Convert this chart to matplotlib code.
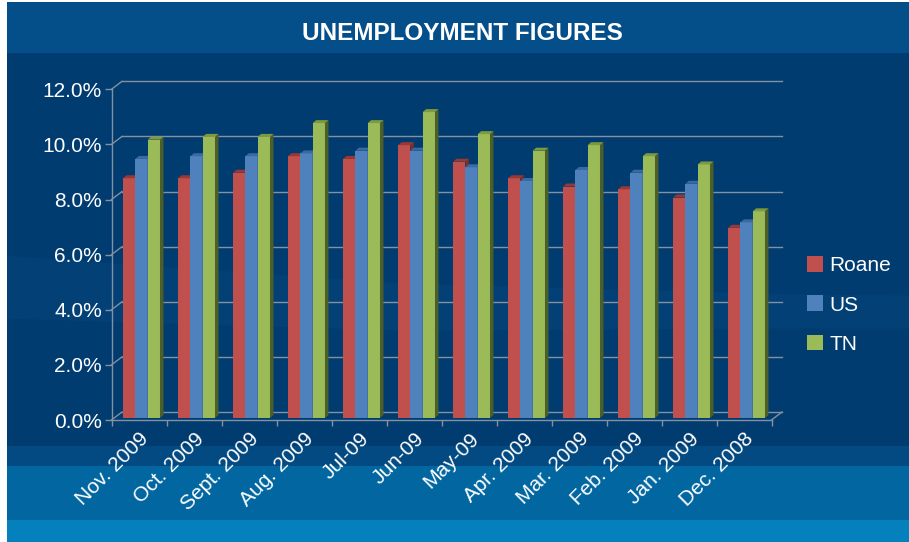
import matplotlib
matplotlib.use('Agg')
import matplotlib.pyplot as plt
import matplotlib.transforms as mtransforms
from matplotlib.patches import Polygon, Rectangle, Patch
from matplotlib.lines import Line2D
import numpy as np

# ---------------- data ----------------
categories = ['Nov. 2009', 'Oct. 2009', 'Sept. 2009', 'Aug. 2009', 'Jul-09', 'Jun-09',
              'May-09', 'Apr. 2009', 'Mar. 2009', 'Feb. 2009', 'Jan. 2009', 'Dec. 2008']
roane = [8.7, 8.7, 8.9, 9.5, 9.4, 9.9, 9.3, 8.7, 8.4, 8.3, 8.0, 6.9]
us = [9.4, 9.5, 9.5, 9.6, 9.7, 9.7, 9.1, 8.6, 9.0, 8.9, 8.5, 7.1]
tn = [10.1, 10.2, 10.2, 10.7, 10.7, 11.1, 10.3, 9.7, 9.9, 9.5, 9.2, 7.5]
series_names = ['Roane', 'US', 'TN']
y_ticks = [0, 2, 4, 6, 8, 10, 12]
title = 'UNEMPLOYMENT FIGURES'

# ---------------- style ----------------
front_cols = ['#c0504d', '#4f81bd', '#9bbb59']
top_cols = ['#9a3835', '#3b6aa3', '#7d9a3e']
side_cols = ['#7e2d2a', '#2c5185', '#4d5f28']
grid_col = '#8391a1'
FONT = ['Liberation Sans', 'DejaVu Sans']
plt.rcParams['font.family'] = FONT

W, H = 909, 542
fig = plt.figure(figsize=(W / 100, H / 100), dpi=100, facecolor='white')


def fx(px):
    return px / W


def fy(py):
    return 1 - py / H


# ---------------- background ----------------
bg = fig.add_axes([0, 0, 1, 1])
bg.set_xlim(0, W)
bg.set_ylim(H, 0)
bg.axis('off')
bands = [(2, 52.5, '#044f89'), (52.5, 446, '#013c71'), (446, 466, '#024a81'),
         (466, 520, '#0267a1'), (520, 542, '#0480bd')]
for y0, y1, c in bands:
    bg.add_patch(Rectangle((7, y0), W - 7, y1 - y0, facecolor=c, edgecolor='none'))
sx = np.linspace(7, W, 50)
upper = np.interp(sx, [0, 400, 800, 909], [255, 283, 294, 295])
lower = np.interp(sx, [0, 400, 800, 909], [318, 330, 328, 328])
bg.fill_between(sx, upper, lower, color='#0a5a8c', alpha=0.15, linewidth=0)

fig.text(fx(462), fy(33), title, ha='center', va='center', color='white',
         fontsize=17.5, fontweight='bold')

# ---------------- main axes ----------------
ax = fig.add_axes([fx(111.5), fy(420), fx(771.5) - fx(111.5), fy(89.3) - fy(420)])
ax.set_xlim(0, len(categories))
ax.set_ylim(0, 12)
ax.patch.set_visible(False)
for s in ['top', 'right']:
    ax.spines[s].set_visible(False)
for s in ['left', 'bottom']:
    ax.spines[s].set_color(grid_col)
    ax.spines[s].set_linewidth(1)

DX, DY = 10.5, 8.0      # back wall offset (pixels)
BX, BY = 2.5, 2.0       # bars offset (pixels)
PX, PY = 3.5, 3.0       # bar depth (pixels)
IDT = mtransforms.IdentityTransform()


def disp(x, y):
    return ax.transData.transform((x, y))


def pline(p0, p1, **kw):
    ax.add_line(Line2D([p0[0], p1[0]], [p0[1], p1[1]], transform=IDT,
                       color=grid_col, lw=1, clip_on=False, zorder=1, **kw))


n = len(categories)
for yv in y_ticks:
    a = disp(0, yv)
    b = disp(n, yv)
    pline(a + [DX, DY], b + [DX, DY])
    pline(a, a + [DX, DY])
pline(disp(n, 0), disp(n, 0) + [DX, DY])

# ---------------- bars ----------------
bw = 0.2236
bar_tr = mtransforms.offset_copy(ax.transData, fig=fig, x=BX, y=BY, units='dots')
x_idx = np.arange(n)
for k, vals in enumerate([roane, us, tn]):
    centers = x_idx + 0.277 + k * bw
    z = 3 + k * 0.1
    ax.bar(centers, vals, width=bw, color=front_cols[k], transform=bar_tr,
           zorder=z, linewidth=0, clip_on=False)
    for c, v in zip(centers, vals):
        fl = disp(c - bw / 2, v) + [BX, BY]
        fr = disp(c + bw / 2, v) + [BX, BY]
        br = disp(c + bw / 2, 0) + [BX, BY]
        top = [fl, fr, fr + [PX, PY], fl + [PX, PY]]
        side = [br, fr, fr + [PX, PY], br + [PX, PY]]
        ax.add_patch(Polygon(side, closed=True, transform=IDT, facecolor=side_cols[k],
                             edgecolor='none', zorder=z + 0.05, clip_on=False))
        ax.add_patch(Polygon(top, closed=True, transform=IDT, facecolor=top_cols[k],
                             edgecolor='none', zorder=z + 0.05, clip_on=False))

# ---------------- ticks ----------------
ax.set_yticks(y_ticks)
ax.set_yticklabels([f'{v:.1f}%' for v in y_ticks])
ax.tick_params(axis='y', colors=grid_col, length=5, width=1, pad=2,
               labelcolor='white', labelsize=15)
ax.set_xticks(np.arange(n + 1))
ax.set_xticklabels([])
ax.tick_params(axis='x', which='major', colors=grid_col, length=4.5, width=1)
ax.set_xticks(x_idx + 0.5, minor=True)
ax.set_xticklabels(categories, minor=True, rotation=45, ha='right',
                   va='top', rotation_mode='anchor')
ax.tick_params(axis='x', which='minor', length=0, pad=6.5, labelcolor='white',
               labelsize=15)

# ---------------- legend ----------------
handles = [Patch(facecolor=c, edgecolor='none') for c in front_cols]
leg = fig.legend(handles, series_names, loc='center left',
                 bbox_to_anchor=(fx(806.7), fy(305)), frameon=False, fontsize=15,
                 handlelength=0.77, handleheight=0.77, handletextpad=0.33,
                 labelspacing=0.98, borderpad=0, borderaxespad=0)
for t in leg.get_texts():
    t.set_color('white')

fig.savefig('out.png', dpi=100, facecolor='white')
